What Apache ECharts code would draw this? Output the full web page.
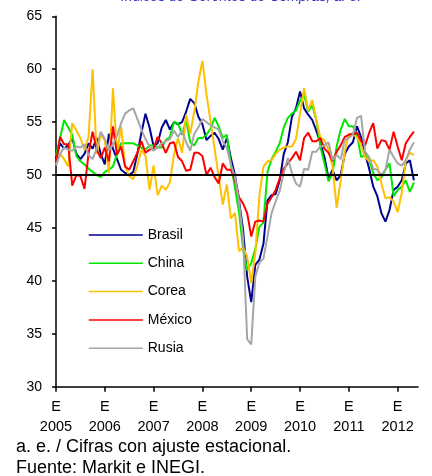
<!DOCTYPE html>
<html>
<head>
<meta charset="utf-8">
<script src="https://cdn.jsdelivr.net/npm/echarts@6/dist/echarts.min.js"></script>
<style>
html,body{margin:0;padding:0;background:#fff;}
#c{width:432px;height:476px;}
</style>
</head>
<body>
<div id="c"></div>
<script>
// Months from Jan 2005 (index 0) to May 2012 (index 88)
const yearLabels = ['2005','2006','2007','2008','2009','2010','2011','2012'];
const seriesNames = ['Brasil','China','Corea','México','Rusia'];

const brasil = [51.5,53.0,52.5,52.8,53.5,52.0,51.5,52.0,53.0,52.5,
53.5,52.0,51.0,53.9,52.5,51.5,50.5,50.2,50.0,50.3,
52.0,54.0,55.8,54.5,52.7,53.0,54.5,55.2,54.3,55.0,
54.8,55.0,56.0,57.2,56.8,55.5,54.8,53.3,53.7,54.0,
53.4,52.4,53.5,51.6,50.0,47.6,44.8,40.4,38.0,41.5,
42.0,43.5,47.6,48.1,48.2,49.5,52.0,53.1,55.5,56.3,
57.9,56.3,55.7,55.2,54.2,53.0,51.7,49.7,50.5,49.5,
50.0,52.0,52.7,53.1,54.6,53.6,52.0,50.6,48.9,48.0,
46.4,45.6,46.7,48.6,48.9,49.5,51.1,51.4,49.5];

const china = [51.8,53.5,55.2,54.5,53.8,51.8,51.3,51.0,50.6,50.3,
50.0,49.8,50.3,50.5,50.8,52.0,53.0,53.0,53.0,53.0,
52.8,52.6,52.4,52.8,52.8,52.6,52.6,53.3,53.6,55.0,
54.9,53.8,55.2,53.1,52.8,53.5,53.5,53.8,54.4,55.4,
54.6,53.5,53.8,51.0,48.8,46.5,43.0,41.0,41.7,43.0,
45.1,45.5,50.3,51.5,52.2,53.0,54.5,55.4,55.8,56.1,
57.0,57.6,56.0,56.6,55.2,52.7,51.1,49.4,50.2,52.7,
54.3,55.3,54.6,54.6,53.8,51.7,51.9,51.4,50.2,49.5,
49.8,50.5,51.1,48.0,48.6,48.9,49.5,48.4,49.3];

const corea = [51.0,52.0,51.5,50.8,54.9,54.2,53.5,52.4,53.6,60.0,
52.0,53.8,53.3,50.2,58.2,52.1,54.6,50.8,49.9,49.6,
50.9,52.4,51.8,48.6,50.9,48.1,49.0,48.6,49.3,51.9,
53.5,52.1,55.7,53.9,56.0,58.8,60.8,57.6,55.1,52.5,
49.8,47.2,49.1,45.9,46.4,42.8,43.2,42.3,39.8,42.6,
48.0,50.8,51.3,51.4,52.0,52.4,52.6,52.7,52.7,53.4,
55.8,58.2,56.1,57.1,55.2,53.5,53.3,52.4,50.8,46.9,
49.5,52.2,53.9,53.8,53.6,52.8,51.7,51.3,51.4,50.8,
49.2,47.8,47.9,47.5,46.5,48.3,51.4,52.1,51.9];

const mexico = [51.1,53.6,52.9,52.9,49.0,50.0,49.9,48.7,52.0,54.1,
52.4,51.6,52.6,51.3,54.6,51.9,52.7,50.8,50.5,51.3,
52.1,53.2,52.1,52.4,52.5,53.6,53.0,52.1,53.0,53.1,
51.7,51.3,50.4,50.5,52.1,52.1,51.8,50.0,50.7,49.8,
49.2,51.1,50.5,50.5,49.5,47.9,47.3,46.4,44.2,45.6,
45.7,45.6,47.3,47.9,48.6,49.7,50.6,51.1,51.6,52.2,
51.4,53.5,54.0,53.2,53.2,53.5,52.5,52.1,51.3,52.2,
52.8,53.6,53.8,53.9,54.0,53.2,52.8,54.0,54.9,52.5,
53.3,53.2,52.4,54.1,52.7,51.4,53.0,53.6,54.1];

const rusia = [50.9,52.0,52.6,52.4,52.3,52.7,52.6,52.9,51.9,51.5,
52.5,54.1,53.4,52.3,52.9,53.7,54.9,55.8,56.1,56.3,
55.3,54.3,53.4,52.7,52.3,52.6,53.0,53.2,53.4,54.2,
53.6,54.2,53.1,52.3,53.9,54.5,55.3,55.0,54.7,54.5,
54.3,53.2,52.6,51.0,49.8,47.5,44.0,34.5,34.0,40.4,
41.7,42.1,44.2,46.4,47.5,48.5,50.2,51.6,50.2,49.2,
48.9,50.6,50.5,52.2,52.2,52.7,52.8,53.1,51.4,51.9,
51.5,53.3,53.5,53.8,55.4,55.6,52.2,51.7,50.6,50.5,
50.0,50.5,52.4,51.7,51.1,50.9,51.4,52.4,53.1];

const colors = ['#000090','#00E800','#FFC000','#FF0000','#A6A6A6'];
const allData = [brasil, china, corea, mexico, rusia];
const tickMonths = yearLabels.map((y,i)=>i*12);
const FONT = '"Liberation Sans", Arial, sans-serif';

const chart = echarts.init(document.getElementById('c'), null, {renderer:'canvas'});
const series = allData.map((arr, k) => {
  const s = {
    name: seriesNames[k],
    type: 'line',
    symbol: 'none',
    showSymbol: false,
    data: arr.map((v,i)=>[i,v]),
    lineStyle: {color: colors[k], width: 2},
    itemStyle: {color: colors[k]},
    emphasis: {disabled: true},
    silent: true
  };
  if (k === allData.length - 1) {
    s.markLine = {
      silent: true,
      symbol: ['none','none'],
      label: {show:false},
      lineStyle: {color:'#000', width:2, type:'solid'},
      data: [{yAxis: 50}]
    };
  }
  return s;
});

chart.setOption({
  animation: false,
  textStyle: {fontFamily: FONT},
  grid: {left:56, right:14, top:16.3, bottom:89.3, containLabel:false},
  legend: {
    data: seriesNames,
    orient: 'vertical',
    left: 83, top: 223,
    itemWidth: 54, itemHeight: 14, itemGap: 14.3,
    textStyle: {fontSize:14, color:'#000', fontFamily: FONT},
    lineStyle: {width: 1.5},
    itemStyle: {opacity: 0},
    selectedMode: false
  },
  xAxis: {
    type: 'value', min: 0, max: 89,
    axisLine: {show:true, onZero:false, lineStyle:{color:'#000', width:1.5}},
    axisTick: {show:true, length:5, customValues: tickMonths, lineStyle:{color:'#000', width:1.5}},
    splitLine: {show:false},
    axisLabel: {
      customValues: tickMonths,
      formatter: v => 'E\n' + yearLabels[Math.round(v/12)],
      fontSize: 14.5, lineHeight: 19.5, color:'#000', margin: 11, fontFamily: FONT
    }
  },
  yAxis: {
    type: 'value', min: 30, max: 65, interval: 5,
    axisLine: {show:true, lineStyle:{color:'#000', width:1.5}},
    axisTick: {show:true, length:4, lineStyle:{color:'#000', width:1.5}},
    splitLine: {show:false},
    axisLabel: {fontSize:14, color:'#000', margin:14, fontFamily: FONT}
  },
  graphic: [
    {type:'text', x: 241, y: -10, silent:true,
     style:{text:'Índices de Gerentes de Compras, a. e.', fill:'#3333CC', font:'italic 14px ' + FONT, align:'center', verticalAlign:'top'}},
    {type:'text', left: 16, top: 438, style:{text:'a. e. / Cifras con ajuste estacional.', fill:'#000', font:'18px ' + FONT}},
    {type:'text', left: 16, top: 459, style:{text:'Fuente: Markit e INEGI.', fill:'#000', font:'18px ' + FONT}}
  ],
  series: series
});
</script>
</body>
</html>
